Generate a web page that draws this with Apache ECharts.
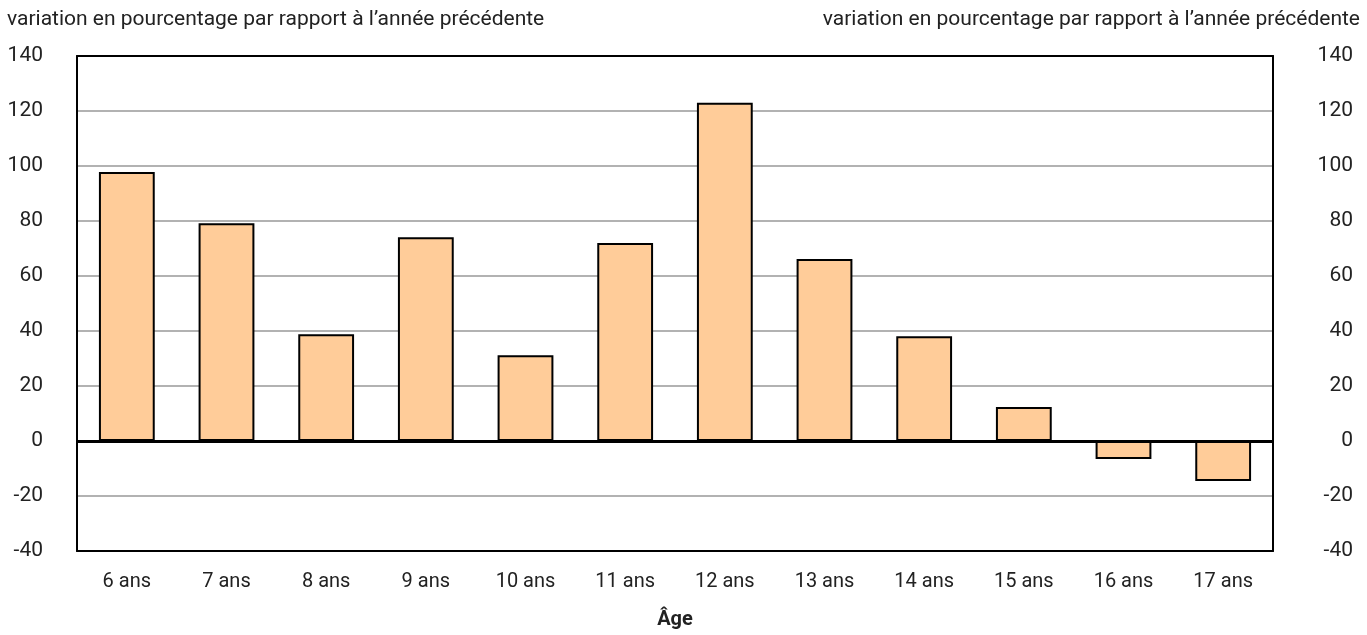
<!DOCTYPE html>
<html><head><meta charset="utf-8">
<script src="https://cdn.jsdelivr.net/npm/echarts@6/dist/echarts.min.js"></script>
<style>html,body{margin:0;padding:0;background:#fff}#c{width:1367px;height:635px}</style>
</head><body><div id="c"></div>
<script>
const categories = ['6 ans','7 ans','8 ans','9 ans','10 ans','11 ans','12 ans','13 ans','14 ans','15 ans','16 ans','17 ans'];
const values = [97.8, 79.2, 38.8, 74.1, 31.2, 72.0, 123.0, 66.2, 38.1, 12.4, -6.5, -14.5];
const axisTitle = 'variation en pourcentage par rapport à l\u2019année précédente';
const xTitle = 'Âge';
const FONT = 'Roboto, "Liberation Sans", sans-serif';

const chart = echarts.init(document.getElementById('c'), null, {renderer:'canvas'});
const edge = {show:true, onZero:false, lineStyle:{color:'#000', width:2}};
chart.setOption({
  animation:false,
  textStyle:{fontFamily:FONT},
  grid:{left:77, right:94, top:56, bottom:80},
  graphic:[
    {type:'text', left:7, top:9, style:{text:axisTitle, font:'21px '+FONT, fill:'#222'}},
    {type:'text', right:7, top:9, style:{text:axisTitle, font:'21px '+FONT, fill:'#222'}}
  ],
  xAxis:[
    {type:'category', data:categories, position:'bottom',
    axisLine:edge, axisTick:{show:false},
    axisLabel:{color:'#222', fontSize:20, margin:21, fontFamily:FONT},
    name:xTitle, nameLocation:'middle', nameGap:59,
    nameTextStyle:{color:'#222', fontSize:20, fontWeight:'bold', fontFamily:FONT}},
    {type:'category', data:categories, position:'top',
    axisLine:edge, axisTick:{show:false}, axisLabel:{show:false}}
  ],
  yAxis:[
    {type:'value', min:-40, max:140, interval:20,
     axisLine:edge, axisTick:{show:false},
     axisLabel:{color:'#222', fontSize:21, margin:34, fontFamily:FONT},
     splitLine:{lineStyle:{color:'#999', width:1.5}}},
    {type:'value', min:-40, max:140, interval:20, position:'right',
     axisLine:edge, axisTick:{show:false},
     axisLabel:{color:'#222', fontSize:21, margin:80, align:'right', fontFamily:FONT},
     splitLine:{show:false}}
  ],
  series:[{type:'bar', data:values, barWidth:'56%',
    itemStyle:{color:'#FFCC99', borderColor:'#000', borderWidth:2},
    markLine:{silent:true, symbol:'none', label:{show:false},
      lineStyle:{color:'#000', width:3, type:'solid'},
      data:[{yAxis:0}]}
  }]
});
</script></body></html>
